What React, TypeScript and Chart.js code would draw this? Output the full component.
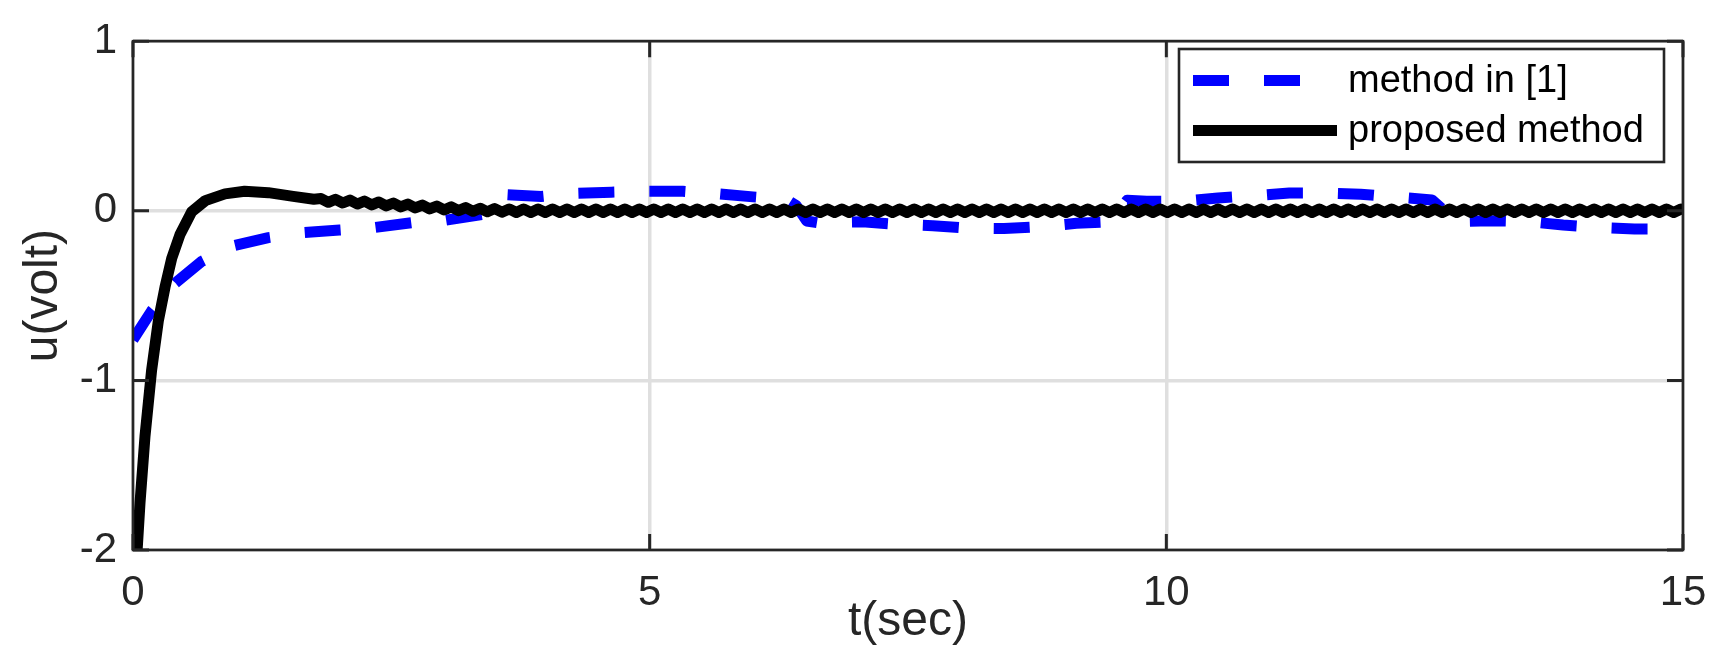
import React, { useEffect, useRef } from "react";
import { Chart, registerables } from "chart.js";

Chart.register(...registerables);

const FONT = "'Liberation Sans', Arial, Helvetica, sans-serif";
const INK = "#262626";

const X_MIN = 0;
const X_MAX = 15;
const X_STEP = 5;
const Y_MIN = -2;
const Y_MAX = 1;
const Y_STEP = 1;

const X_TITLE = "t(sec)";
const Y_TITLE = "u(volt)";
const SERIES_LABELS = ["method in [1]", "proposed method"];

// method in [1] (blue dashed)
const method1T = [
  0, 0.18, 0.41, 0.66, 0.97, 1.31, 1.65, 2.0, 2.33, 2.7,
  3.03, 3.38, 3.45, 3.53, 3.6, 3.95, 4.28, 4.63, 4.97, 5.32,
  5.67, 6.0, 6.32, 6.42, 6.52, 6.62, 7.06, 7.39, 7.74, 8.08,
  8.43, 8.77, 9.13, 9.45, 9.53, 9.62, 9.81, 10.16, 10.5, 10.86,
  11.19, 11.55, 11.88, 12.24, 12.57, 12.67, 12.76, 13.15, 13.5, 13.84,
  14.19, 14.53, 14.88, 15,
];
const method1U = [
  -0.76, -0.59, -0.425, -0.3, -0.206, -0.158, -0.129, -0.113, -0.099, -0.07,
  -0.055, -0.021, -0.01, 0.07, 0.096, 0.084, 0.103, 0.11, 0.115, 0.115,
  0.1, 0.082, 0.068, 0.03, -0.06, -0.07, -0.065, -0.08, -0.088, -0.103,
  -0.105, -0.094, -0.074, -0.065, -0.01, 0.062, 0.057, 0.057, 0.076, 0.09,
  0.105, 0.105, 0.098, 0.08, 0.064, 0.01, -0.064, -0.058, -0.064, -0.084,
  -0.099, -0.107, -0.107, -0.107,
];

// proposed method (black solid, small ripple)
const proposedT = [
  0, 0.04, 0.068, 0.116, 0.18, 0.245, 0.31, 0.375, 0.455, 0.568,
  0.7, 0.89, 1.08, 1.31, 1.55, 1.75,
  1.82, 1.89, 1.96, 2.03, 2.10, 2.17, 2.24, 2.31, 2.38, 2.45,
  2.52, 2.59, 2.66, 2.73, 2.80, 2.87, 2.94, 3.01, 3.08, 3.15,
  3.22, 3.29, 3.36, 3.43, 3.50, 3.57, 3.64, 3.71, 3.78, 3.85,
  3.92, 3.99, 4.06, 4.13, 4.20, 4.27, 4.34, 4.41, 4.48, 4.55,
  4.62, 4.69, 4.76, 4.83, 4.90, 4.97, 5.04, 5.11, 5.18, 5.25,
  5.32, 5.39, 5.46, 5.53, 5.60, 5.67, 5.74, 5.81, 5.88, 5.95,
  6.02, 6.09, 6.16, 6.23, 6.30, 6.37, 6.44, 6.51, 6.58, 6.65,
  6.72, 6.79, 6.86, 6.93, 7.00, 7.07, 7.14, 7.21, 7.28, 7.35,
  7.42, 7.49, 7.56, 7.63, 7.70, 7.77, 7.84, 7.91, 7.98, 8.05,
  8.12, 8.19, 8.26, 8.33, 8.40, 8.47, 8.54, 8.61, 8.68, 8.75,
  8.82, 8.89, 8.96, 9.03, 9.10, 9.17, 9.24, 9.31, 9.38, 9.45,
  9.52, 9.59, 9.66, 9.73, 9.80, 9.87, 9.94, 10.01, 10.08, 10.15,
  10.22, 10.29, 10.36, 10.43, 10.50, 10.57, 10.64, 10.71, 10.78, 10.85,
  10.92, 10.99, 11.06, 11.13, 11.20, 11.27, 11.34, 11.41, 11.48, 11.55,
  11.62, 11.69, 11.76, 11.83, 11.90, 11.97, 12.04, 12.11, 12.18, 12.25,
  12.32, 12.39, 12.46, 12.53, 12.60, 12.67, 12.74, 12.81, 12.88, 12.95,
  13.02, 13.09, 13.16, 13.23, 13.30, 13.37, 13.44, 13.51, 13.58, 13.65,
  13.72, 13.79, 13.86, 13.93, 14.00, 14.07, 14.14, 14.21, 14.28, 14.35,
  14.42, 14.49, 14.56, 14.63, 14.70, 14.77, 14.84, 14.91, 14.98,
  15.0,
];
const proposedU = [
  -2.3, -2.0, -1.72, -1.33, -0.94, -0.65, -0.45, -0.28, -0.14, -0.006,
  0.06, 0.1, 0.115, 0.107, 0.085, 0.068,
  0.072, 0.05, 0.068, 0.046, 0.063, 0.04, 0.057, 0.035, 0.052, 0.029,
  0.046, 0.023, 0.04, 0.017, 0.034, 0.011, 0.028, 0.005, 0.023, 0.001,
  0.019, -0.003, 0.015, -0.006, 0.013, -0.008, 0.011, -0.01, 0.01, -0.01,
  0.01, -0.01, 0.01, -0.01, 0.01, -0.01, 0.01, -0.01, 0.01, -0.01,
  0.01, -0.01, 0.01, -0.01, 0.01, -0.01, 0.01, -0.01, 0.01, -0.01,
  0.01, -0.01, 0.01, -0.01, 0.01, -0.01, 0.01, -0.01, 0.01, -0.01,
  0.01, -0.01, 0.01, -0.01, 0.01, -0.01, 0.01, -0.01, 0.01, -0.01,
  0.01, -0.01, 0.01, -0.01, 0.01, -0.01, 0.01, -0.01, 0.01, -0.01,
  0.01, -0.01, 0.01, -0.01, 0.01, -0.01, 0.01, -0.01, 0.01, -0.01,
  0.01, -0.01, 0.01, -0.01, 0.01, -0.01, 0.01, -0.01, 0.01, -0.01,
  0.01, -0.01, 0.01, -0.01, 0.01, -0.01, 0.01, -0.01, 0.01, -0.01,
  0.01, -0.01, 0.01, -0.01, 0.01, -0.01, 0.01, -0.01, 0.01, -0.01,
  0.01, -0.01, 0.01, -0.01, 0.01, -0.01, 0.01, -0.01, 0.01, -0.01,
  0.01, -0.01, 0.01, -0.01, 0.01, -0.01, 0.01, -0.01, 0.01, -0.01,
  0.01, -0.01, 0.01, -0.01, 0.01, -0.01, 0.01, -0.01, 0.01, -0.01,
  0.01, -0.01, 0.01, -0.01, 0.01, -0.01, 0.01, -0.01, 0.01, -0.01,
  0.01, -0.01, 0.01, -0.01, 0.01, -0.01, 0.01, -0.01, 0.01, -0.01,
  0.01, -0.01, 0.01, -0.01, 0.01, -0.01, 0.01, -0.01, 0.01, -0.01,
  0.01, -0.01, 0.01, -0.01, 0.01, -0.01, 0.01, -0.01, 0.01,
  0.0,
];

const toPoints = (ts: number[], us: number[]) =>
  ts.map((t, i) => ({ x: t, y: us[i] }));

const boxPlugin = {
  id: "matlabBox",
  afterDatasetsDraw(chart: any) {
    const { ctx, chartArea, scales } = chart;
    const { left, right, top, bottom } = chartArea;
    const x = scales.x;
    const y = scales.y;
    const tick = 16;
    ctx.save();
    ctx.strokeStyle = INK;
    ctx.lineWidth = 3;
    ctx.beginPath();
    for (const t of x.ticks) {
      const px = x.getPixelForValue(t.value);
      ctx.moveTo(px, bottom);
      ctx.lineTo(px, bottom - tick);
      ctx.moveTo(px, top);
      ctx.lineTo(px, top + tick);
    }
    for (const t of y.ticks) {
      const py = y.getPixelForValue(t.value);
      ctx.moveTo(left, py);
      ctx.lineTo(left + tick, py);
      ctx.moveTo(right, py);
      ctx.lineTo(right - tick, py);
    }
    ctx.stroke();
    ctx.lineWidth = 2.6;
    ctx.strokeRect(left, top, right - left, bottom - top);
    ctx.restore();
  },
};

const legendPlugin = {
  id: "matlabLegend",
  afterDraw(chart: any) {
    const { ctx } = chart;
    const bx = 1179;
    const by = 49;
    const bw = 485;
    const bh = 113;
    ctx.save();
    ctx.fillStyle = "#ffffff";
    ctx.fillRect(bx, by, bw, bh);
    ctx.strokeStyle = INK;
    ctx.lineWidth = 2.6;
    ctx.strokeRect(bx, by, bw, bh);
    // size the legend text so the longest label spans the measured width
    ctx.font = `38px ${FONT}`;
    const longest = Math.max(
      ...chart.data.datasets.map((d: any) => ctx.measureText(d.label).width)
    );
    const size = longest > 0 ? Math.min(44, Math.max(30, (38 * 296) / longest)) : 38;
    const rows = [80.5, 130.5];
    chart.data.datasets.forEach((ds: any, i: number) => {
      const cy = rows[i];
      const dashed = ds.borderDash && ds.borderDash.length;
      ctx.save();
      ctx.strokeStyle = ds.borderColor;
      ctx.lineWidth = ds.borderWidth;
      ctx.lineCap = "butt";
      ctx.setLineDash(ds.borderDash || []);
      ctx.beginPath();
      ctx.moveTo(1193, cy);
      ctx.lineTo(dashed ? 1301 : 1337, cy);
      ctx.stroke();
      ctx.restore();
      ctx.fillStyle = "#000000";
      ctx.font = `${size}px ${FONT}`;
      ctx.textAlign = "left";
      ctx.textBaseline = "middle";
      ctx.fillText(ds.label, 1348, cy + 1);
    });
    ctx.restore();
  },
};

export default function App() {
  const ref = useRef<HTMLCanvasElement>(null);

  useEffect(() => {
    document.body.style.margin = "0";
    const canvas = ref.current;
    if (!canvas) return;
    const chart = new Chart(canvas, {
      type: "line",
      data: {
        datasets: [
          {
            label: SERIES_LABELS[0],
            data: toPoints(method1T, method1U),
            borderColor: "#0000ff",
            borderWidth: 11,
            borderDash: [36, 35],
            borderCapStyle: "butt",
            borderJoinStyle: "round",
            pointRadius: 0,
            tension: 0,
            fill: false,
            clip: 0,
            order: 2,
          },
          {
            label: SERIES_LABELS[1],
            data: toPoints(proposedT, proposedU),
            borderColor: "#000000",
            borderWidth: 11,
            borderCapStyle: "butt",
            borderJoinStyle: "round",
            pointRadius: 0,
            tension: 0,
            fill: false,
            clip: 0,
            order: 1,
          },
        ] as any,
      },
      options: {
        responsive: false,
        animation: false,
        devicePixelRatio: 1,
        layout: { padding: { top: 38, right: 45, bottom: 0, left: 0 } },
        plugins: {
          legend: { display: false },
          tooltip: { enabled: false },
        },
        scales: {
          x: {
            type: "linear",
            min: X_MIN,
            max: X_MAX,
            ticks: {
              stepSize: X_STEP,
              color: INK,
              font: { family: FONT, size: 42 },
              padding: 18,
              maxRotation: 0,
              autoSkip: false,
            },
            grid: { color: "#dfdfdf", lineWidth: 3.5, drawTicks: false },
            border: { display: false },
            title: {
              display: true,
              text: X_TITLE,
              color: INK,
              font: { family: FONT, size: 48 },
              padding: { top: 0, bottom: 8 },
            },
            afterFit(scale: any) {
              scale.height = 109;
            },
          },
          y: {
            type: "linear",
            min: Y_MIN,
            max: Y_MAX,
            ticks: {
              stepSize: Y_STEP,
              color: INK,
              font: { family: FONT, size: 42 },
              padding: 16,
            },
            grid: { color: "#dfdfdf", lineWidth: 3.5, drawTicks: false },
            border: { display: false },
            title: {
              display: true,
              text: Y_TITLE,
              color: INK,
              font: { family: FONT, size: 48 },
              padding: { top: 15, bottom: 0 },
            },
            afterFit(scale: any) {
              scale.width = 133;
            },
          },
        },
      } as any,
      plugins: [boxPlugin, legendPlugin],
    });
    return () => chart.destroy();
  }, []);

  return (
    <div style={{ width: 1728, height: 659 }}>
      <canvas ref={ref} width={1728} height={659} style={{ display: "block" }} />
    </div>
  );
}
